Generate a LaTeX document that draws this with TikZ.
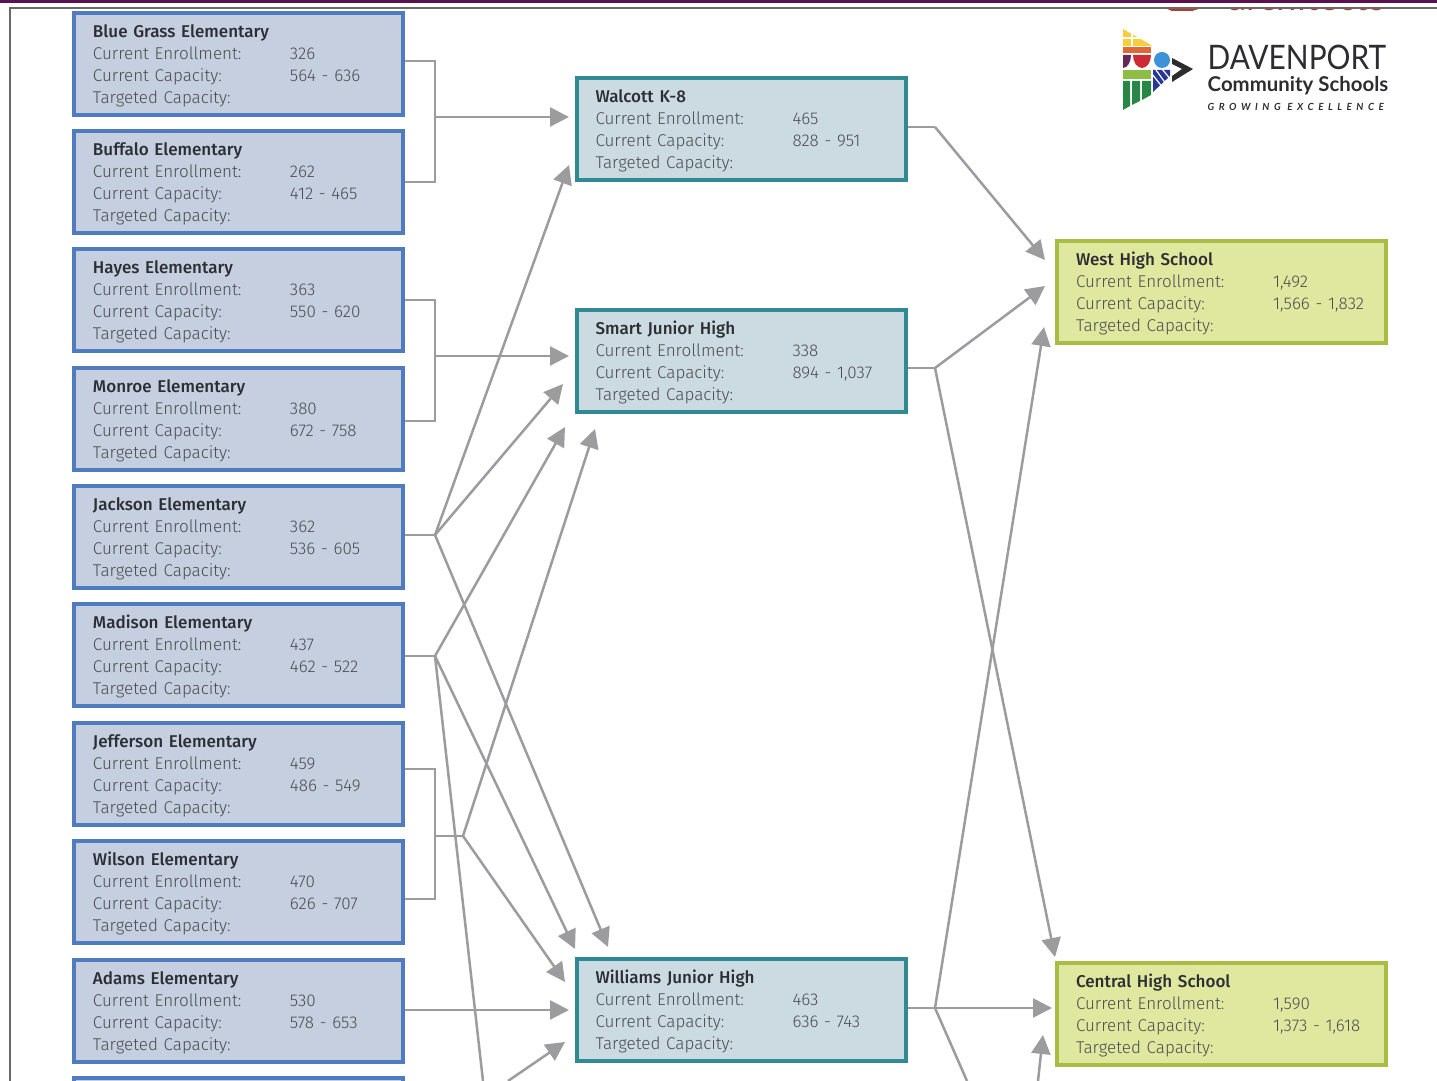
\documentclass[tikz,border=0pt]{standalone}
\usepackage{fontspec}
\setmainfont{Fira Sans Light}[BoldFont={Fira Sans Medium}]
\newfontfamily\logofont{Lato}
\usepackage[svgnames]{xcolor}
\usetikzlibrary{arrows.meta}
\pgfdeclarelayer{edgelayer}
\pgfdeclarelayer{nodelayer}
\pgfsetlayers{edgelayer,nodelayer,main}
\definecolor{linkgray}{HTML}{9C9C9E}
\definecolor{textgray}{HTML}{4A4C50}
\definecolor{titlegray}{HTML}{2C2E33}
\tikzstyle{none}=[inner sep=0pt]
\tikzstyle{schoolbox}=[rectangle, draw, line width=0.04cm, minimum width=3.29cm, minimum height=1.02cm, inner xsep=0pt, inner ysep=0pt, text width=2.91cm, align=left, text=textgray, font=\fontsize{4.85}{6.26}\selectfont]
\tikzstyle{elementary}=[schoolbox, draw={rgb,255:red,79;green,124;blue,191}, fill={rgb,255:red,197;green,207;blue,224}]
\tikzstyle{junior}=[schoolbox, draw={rgb,255:red,47;green,138;blue,148}, fill={rgb,255:red,203;green,219;blue,225}]
\tikzstyle{senior}=[schoolbox, draw={rgb,255:red,169;green,189;blue,69}, fill={rgb,255:red,224;green,232;blue,160}]
\tikzstyle{link}=[draw=linkgray, line width=0.025cm]
\tikzstyle{feed}=[link, -{Triangle[length=0.19cm,width=0.19cm]}]
\newcommand{\schoolinfo}[3]{\rule{0pt}{0.16cm}{\bfseries\color{titlegray}#1}\\\makebox[1.97cm][l]{Current Enrollment:}\mbox{#2}\\\makebox[1.97cm][l]{Current Capacity:}\mbox{#3}\\Targeted Capacity:}

\begin{document}
\begin{tikzpicture}
	\useasboundingbox (0,0) rectangle (14.37,-10.81);
	\clip (0,0) rectangle (14.37,-10.81);
	% page edge
	\begin{scope}
		\clip (11.5,-0.08) rectangle (14.37,-0.3);
		\fill [fill={rgb,255:red,178;green,58;blue,48}] (11.65,-0.08) -- (12.02,-0.08) -- (11.92,-0.11) -- (11.72,-0.11) -- cycle;
		\node [style=none, anchor=base west, text={rgb,255:red,178;green,58;blue,48}, font=\logofont\fontsize{10.4}{12}\selectfont] (makername) at (12.28,-0.105) {architects};
	\end{scope}
	\fill [fill={rgb,255:red,91;green,17;blue,80}] (0,0) rectangle (14.37,-0.035);
	\draw [draw=DimGray, line width=0.012cm] (14.37,-0.08) -- (0.1,-0.08) -- (0.1,-10.81);
	% logo
	\fill [fill={rgb,255:red,246;green,205;blue,58}] (11.23,-0.29) -- (11.51,-0.45) -- (11.51,-0.46) -- (11.23,-0.46) -- cycle;
	\draw [draw=white, line width=0.012cm] (11.32,-0.28) -- (11.32,-0.47) (11.23,-0.38) -- (11.42,-0.38);
	\fill [fill={rgb,255:red,222;green,105;blue,55}] (11.23,-0.475) rectangle (11.51,-0.535);
	\fill [fill={rgb,255:red,100;green,40;blue,90}] (11.23,-0.55) -- (11.31,-0.55) arc (0:-90:0.08 and 0.13) -- cycle;
	\fill [fill={rgb,255:red,205;green,45;blue,50}] (11.33,-0.55) -- (11.51,-0.55) arc (0:-180:0.09 and 0.13) -- cycle;
	\fill [fill={rgb,255:red,140;green,190;blue,70}] (11.23,-0.70) rectangle (11.51,-0.79);
	\fill [fill={rgb,255:red,40;green,135;blue,70}] (11.23,-0.81) -- (11.30,-0.81) -- (11.30,-1.06) -- (11.23,-1.10) -- cycle;
	\fill [fill={rgb,255:red,40;green,135;blue,70}] (11.32,-0.81) -- (11.40,-0.81) -- (11.40,-1.01) -- (11.32,-1.05) -- cycle;
	\fill [fill={rgb,255:red,40;green,135;blue,70}] (11.42,-0.81) -- (11.51,-0.81) -- (11.51,-0.95) -- (11.42,-1.00) -- cycle;
	\fill [fill={rgb,255:red,60;green,145;blue,215}] (11.62,-0.60) circle (0.08);
	\fill [fill={rgb,255:red,40;green,55;blue,150}] (11.53,-0.70) -- (11.70,-0.70) -- (11.70,-0.76) -- (11.53,-0.92) -- cycle;
	\draw [draw=white, line width=0.012cm] (11.52,-0.74) -- (11.63,-0.88) (11.56,-0.70) -- (11.66,-0.84) (11.62,-0.69) -- (11.71,-0.80);
	\fill [fill={rgb,255:red,45;green,45;blue,48}] (11.72,-0.58) -- (11.93,-0.69) -- (11.72,-0.82) -- (11.72,-0.76) -- (11.82,-0.69) -- (11.72,-0.64) -- cycle;
	\node [style=none, anchor=base west, text={rgb,255:red,45;green,45;blue,48}, font=\logofont\fontsize{9.6}{10}\selectfont] (logotitle) at (12.07,-0.70) {\addfontfeature{FakeStretch=0.885}DAVENPORT};
	\node [style=none, anchor=base west, text={rgb,255:red,45;green,45;blue,48}, font=\logofont\bfseries\fontsize{5.8}{6}\selectfont] (logoname) at (12.07,-0.92) {Community Schools};
	\node [style=none, anchor=base west, text={rgb,255:red,45;green,45;blue,48}, font=\logofont\bfseries\itshape\fontsize{2.8}{3}\selectfont] (logomotto) at (12.07,-1.105) {\addfontfeature{LetterSpace=46}GROWING EXCELLENCE};
	\begin{pgfonlayer}{nodelayer}
		\node [style=elementary] (bluegrass) at (2.385, -0.64) {\schoolinfo{Blue Grass Elementary}{326}{564 - 636}};
		\node [style=elementary] (buffalo) at (2.385, -1.82) {\schoolinfo{Buffalo Elementary}{262}{412 - 465}};
		\node [style=elementary] (hayes) at (2.385, -3.005) {\schoolinfo{Hayes Elementary}{363}{550 - 620}};
		\node [style=elementary] (monroe) at (2.385, -4.19) {\schoolinfo{Monroe Elementary}{380}{672 - 758}};
		\node [style=elementary] (jackson) at (2.385, -5.37) {\schoolinfo{Jackson Elementary}{362}{536 - 605}};
		\node [style=elementary] (madison) at (2.385, -6.55) {\schoolinfo{Madison Elementary}{437}{462 - 522}};
		\node [style=elementary] (jefferson) at (2.385, -7.74) {\schoolinfo{Jefferson Elementary}{459}{486 - 549}};
		\node [style=elementary] (wilson) at (2.385, -8.92) {\schoolinfo{Wilson Elementary}{470}{626 - 707}};
		\node [style=elementary] (adams) at (2.385, -10.11) {\schoolinfo{Adams Elementary}{530}{578 - 653}};
		\node [style=elementary] (lastschool) at (2.385, -11.29) {};
		\node [style=junior] (walcott) at (7.41, -1.29) {\schoolinfo{Walcott K-8}{465}{828 - 951}};
		\node [style=junior] (smart) at (7.41, -3.61) {\schoolinfo{Smart Junior High}{338}{894 - 1,037}};
		\node [style=junior] (williams) at (7.41, -10.10) {\schoolinfo{Williams Junior High}{463}{636 - 743}};
		\node [style=senior] (west) at (12.215, -2.92) {\schoolinfo{West High School}{1,492}{1,566 - 1,832}};
		\node [style=senior] (central) at (12.215, -10.14) {\schoolinfo{Central High School}{1,590}{1,373 - 1,618}};
		\node [style=none] (upperjoin) at (4.35, -1.17) {};
		\node [style=none] (hayesjoin) at (4.35, -3.56) {};
		\node [style=none] (jacksonjoin) at (4.35, -5.35) {};
		\node [style=none] (madisonjoin) at (4.35, -6.56) {};
		\node [style=none] (lowerjoin) at (4.35, -8.36) {};
		\node [style=none] (lowerfork) at (4.63, -8.36) {};
		\node [style=none] (walcottjoin) at (9.35, -1.27) {};
		\node [style=none] (smartjoin) at (9.35, -3.68) {};
		\node [style=none] (williamsjoin) at (9.35, -10.08) {};
		\node [style=none] (walcotttipa) at (5.69, -1.17) {};
		\node [style=none] (walcotttipb) at (5.69, -1.65) {};
		\node [style=none] (smarttipa) at (5.69, -3.56) {};
		\node [style=none] (smarttipb) at (5.63, -3.84) {};
		\node [style=none] (smarttipc) at (5.65, -4.27) {};
		\node [style=none] (smarttipd) at (5.95, -4.29) {};
		\node [style=none] (williamstipa) at (6.08, -9.47) {};
		\node [style=none] (williamstipb) at (5.75, -9.49) {};
		\node [style=none] (williamstipc) at (5.65, -9.82) {};
		\node [style=none] (williamstipd) at (5.69, -10.10) {};
		\node [style=none] (williamstipe) at (5.65, -10.42) {};
		\node [style=none] (westtipa) at (10.45, -2.60) {};
		\node [style=none] (westtipb) at (10.45, -2.86) {};
		\node [style=none] (westtipc) at (10.44, -3.27) {};
		\node [style=none] (centraltipa) at (10.55, -9.57) {};
		\node [style=none] (centraltipb) at (10.52, -10.08) {};
		\node [style=none] (centraltipc) at (10.43, -10.35) {};
		\node [style=none] (belowmadison) at (4.83, -10.81) {};
		\node [style=none] (belowwilliams) at (5.08, -10.81) {};
		\node [style=none] (belowjoin) at (9.67, -10.81) {};
		\node [style=none] (belowcentral) at (10.38, -10.81) {};
		\node [style=none] (bluegrassturn) at (4.35, -0.61) {};
		\node [style=none] (buffaloturn) at (4.35, -1.82) {};
		\node [style=none] (hayesturn) at (4.35, -3.00) {};
		\node [style=none] (monroeturn) at (4.35, -4.21) {};
		\node [style=none] (jeffersonturn) at (4.35, -7.69) {};
		\node [style=none] (wilsonturn) at (4.35, -8.99) {};
	\end{pgfonlayer}
	\begin{pgfonlayer}{edgelayer}
		\draw [style=link] (bluegrass.east |- bluegrassturn.center) to (bluegrassturn.center) to (buffaloturn.center) to (buffalo.east |- buffaloturn.center);
		\draw [style=link] (hayes.east |- hayesturn.center) to (hayesturn.center) to (monroeturn.center) to (monroe.east |- monroeturn.center);
		\draw [style=link] (jefferson.east |- jeffersonturn.center) to (jeffersonturn.center) to (wilsonturn.center) to (wilson.east |- wilsonturn.center);
		\draw [style=feed] (upperjoin.center) to (walcotttipa.center);
		\draw [style=feed] (hayesjoin.center) to (smarttipa.center);
		\draw [style=link] (jackson.east |- jacksonjoin.center) to (jacksonjoin.center);
		\draw [style=feed] (jacksonjoin.center) to (walcotttipb.center);
		\draw [style=feed] (jacksonjoin.center) to (smarttipb.center);
		\draw [style=feed] (jacksonjoin.center) to (williamstipa.center);
		\draw [style=link] (madison.east |- madisonjoin.center) to (madisonjoin.center);
		\draw [style=feed] (madisonjoin.center) to (smarttipc.center);
		\draw [style=feed] (madisonjoin.center) to (williamstipb.center);
		\draw [style=link] (madisonjoin.center) to (belowmadison.center);
		\draw [style=link] (lowerjoin.center) to (lowerfork.center);
		\draw [style=feed] (lowerfork.center) to (smarttipd.center);
		\draw [style=feed] (lowerfork.center) to (williamstipc.center);
		\draw [style=feed] (adams.east |- williamstipd.center) to (williamstipd.center);
		\draw [style=feed] (belowwilliams.center) to (williamstipe.center);
		\draw [style=link] (walcott.east |- walcottjoin.center) to (walcottjoin.center);
		\draw [style=feed] (walcottjoin.center) to (westtipa.center);
		\draw [style=link] (smart.east |- smartjoin.center) to (smartjoin.center);
		\draw [style=feed] (smartjoin.center) to (westtipb.center);
		\draw [style=feed] (smartjoin.center) to (centraltipa.center);
		\draw [style=link] (williams.east |- williamsjoin.center) to (williamsjoin.center);
		\draw [style=feed] (williamsjoin.center) to (westtipc.center);
		\draw [style=feed] (williamsjoin.center) to (centraltipb.center);
		\draw [style=link] (williamsjoin.center) to (belowjoin.center);
		\draw [style=feed] (belowcentral.center) to (centraltipc.center);
	\end{pgfonlayer}
\end{tikzpicture}
\end{document}
